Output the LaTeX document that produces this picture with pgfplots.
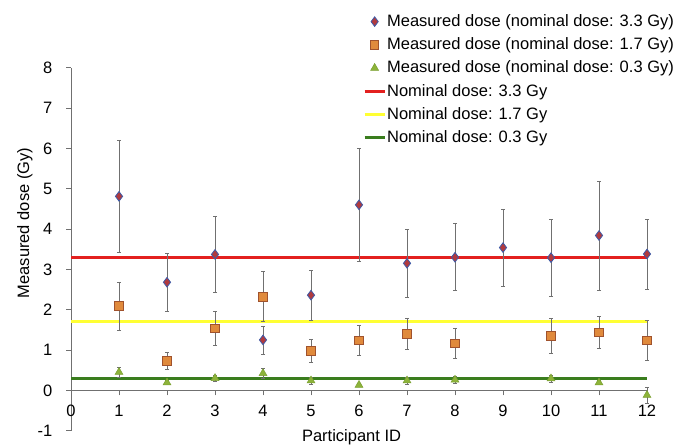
\documentclass[border=0pt]{standalone}
\usepackage{fontspec}
\setmainfont{Liberation Sans}
\usepackage{pgfplots}
\pgfplotsset{compat=1.18}
\definecolor{diafill}{HTML}{B03A3E}
\definecolor{diadraw}{HTML}{3D5AA8}
\definecolor{sqfill}{HTML}{E08A3C}
\definecolor{sqdraw}{HTML}{A0522D}
\definecolor{trifill}{HTML}{8DB33A}
\definecolor{tridraw}{HTML}{7AA030}
\definecolor{nomred}{HTML}{E3201F}
\definecolor{nomyellow}{HTML}{FFFF33}
\definecolor{nomgreen}{HTML}{3A7D1E}
\definecolor{axgray}{HTML}{707070}
\newcommand{\chartfont}{\fontsize{16.5}{19}\selectfont}

% participant, mean, sd
\pgfplotstableread{
x y e
1 4.81 1.39
2 2.68 0.72
3 3.37 0.94
4 1.25 0.35
5 2.36 0.62
6 4.60 1.39
7 3.15 0.85
8 3.30 0.83
9 3.54 0.96
10 3.29 0.96
11 3.84 1.35
12 3.38 0.87
}\highdose
\pgfplotstableread{
x y e
1 2.09 0.60
2 0.73 0.22
3 1.54 0.43
4 2.32 0.62
5 0.98 0.28
6 1.24 0.37
7 1.40 0.39
8 1.17 0.37
10 1.35 0.43
11 1.43 0.40
12 1.24 0.49
}\middose
\pgfplotstableread{
x y e
1 0.45 0.13
2 0.19 0.05
3 0.30 0.08
4 0.42 0.12
5 0.24 0.08
6 0.13 0.04
7 0.24 0.09
8 0.26 0.08
10 0.29 0.09
11 0.19 0.05
12 -0.12 0.19
}\lowdose

\begin{document}
\chartfont
\begin{tikzpicture}
\begin{axis}[
  scale only axis,
  width=576pt, height=363pt,
  xmin=0, xmax=12, ymin=-1, ymax=8,
  axis x line=middle, axis y line=left,
  hide obscured x ticks=false,
  axis line style={-, axgray, line width=0.8pt},
  xtick={0,...,12}, ytick={-1,0,...,8},
  tick align=outside,
  major tick length=5pt,
  tick style={axgray, line width=0.8pt},
  xticklabel style={yshift=-4pt},
  yticklabel style={xshift=-8pt},
  /pgf/number format/assume math mode=true,
  ticklabel style={font=\chartfont},
  xlabel={Participant ID},
  ylabel={Measured dose (Gy)},
  label style={font=\chartfont},
  xlabel style={at={(axis description cs:0.487,-0.017)}, anchor=center},
  ylabel style={at={(axis description cs:-0.08,0.572)}, anchor=center},
  clip=false,
  legend image code/.code={\draw[mark repeat=2,mark phase=2,#1] plot coordinates {(0pt,0pt)(10pt,0pt)(20pt,0pt)};},
  legend cell align=left,
  legend style={draw=none, fill=none, font=\chartfont,
    at={(rel axis cs:1.054,1.165)}, anchor=north east,
    nodes={inner ysep=4.4pt, inner xsep=1pt}},
  error bars/error bar style={axgray, line width=0.6pt},
  error bars/error mark options={rotate=90, axgray, mark size=2pt, line width=0.6pt},
]
% nominal dose reference lines
\addplot[nomred, line width=3pt, forget plot] coordinates {(0,3.3) (12,3.3)};
\addplot[nomyellow, line width=3pt, forget plot] coordinates {(0,1.7) (12,1.7)};
\addplot[nomgreen, line width=3pt, forget plot] coordinates {(0,0.3) (12,0.3)};

\addplot[only marks, mark=diamond*, mark size=4.8pt,
  mark options={fill=diafill, draw=diadraw, line width=0.8pt},
  error bars/.cd, y dir=both, y explicit]
  table[x=x, y=y, y error=e] {\highdose};
\addlegendentry{Measured dose (nominal dose: 3.3 Gy)}

\addplot[only marks, mark=square*, mark size=4.2pt,
  mark options={fill=sqfill, draw=sqdraw, line width=0.8pt},
  error bars/.cd, y dir=both, y explicit]
  table[x=x, y=y, y error=e] {\middose};
\addlegendentry{Measured dose (nominal dose: 1.7 Gy)}

\addplot[only marks, mark=triangle*, mark size=4.6pt,
  mark options={fill=trifill, draw=tridraw, line width=0.5pt},
  error bars/.cd, y dir=both, y explicit]
  table[x=x, y=y, y error=e] {\lowdose};
\addlegendentry{Measured dose (nominal dose: 0.3 Gy)}

\addlegendimage{nomred, line width=3pt}
\addlegendentry{Nominal dose: 3.3 Gy}
\addlegendimage{nomyellow, line width=3pt}
\addlegendentry{Nominal dose: 1.7 Gy}
\addlegendimage{nomgreen, line width=3pt}
\addlegendentry{Nominal dose: 0.3 Gy}

\coordinate (bbl) at (rel axis cs:-0.1233,-0.0421);
\coordinate (btr) at (rel axis cs:1.0521,1.1865);
\end{axis}
\pgfresetboundingbox
\path (bbl) rectangle (btr);
\end{tikzpicture}
\end{document}
